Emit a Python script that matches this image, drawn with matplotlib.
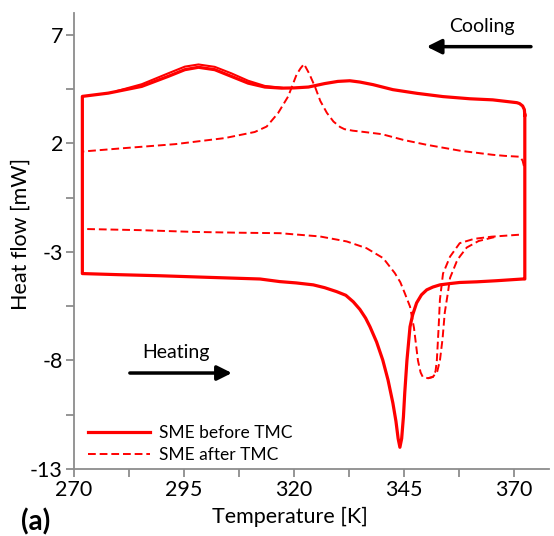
import matplotlib
matplotlib.use("Agg")
import matplotlib.pyplot as plt

plt.rcParams['font.family'] = ['Lato', 'DejaVu Sans']
plt.rcParams['axes.unicode_minus'] = False

# ---- SME before TMC (solid): cooling (right -> left), then heating (left -> right) ----
cool_before_T = [372.5, 372.4, 372.0, 371.3, 370.7, 365.2, 360.0, 353.9, 348.0, 342.5, 338.0, 335.0,
                 332.7, 330.0, 327.0, 323.3, 320.0, 317.2, 313.4, 309.6, 305.8, 302.0, 298.3,
                 295.2, 291.4, 285.4, 277.8, 271.9]
cool_before_Q = [3.3, 3.55, 3.72, 3.83, 3.87, 4.0, 4.05, 4.15, 4.3, 4.47, 4.7, 4.82,
                 4.88, 4.85, 4.75, 4.59, 4.55, 4.54, 4.59, 4.77, 5.08, 5.39, 5.5,
                 5.39, 5.08, 4.62, 4.31, 4.16]
cool_before2_T = [317.2, 313.4, 309.6, 305.8, 302.0, 298.3, 295.2, 291.4, 285.4, 280.0]
cool_before2_Q = [4.56, 4.64, 4.88, 5.22, 5.52, 5.63, 5.53, 5.22, 4.72, 4.42]
heat_before_T = [271.9, 280.0, 289.5, 300.0, 312.3, 316.8, 320.5, 324.4, 327.0, 329.7, 331.8, 333.5,
                 335.0, 336.3, 337.3, 338.8, 340.2, 341.4, 342.5, 343.2, 343.7, 344.1, 344.5, 344.9,
                 345.2, 345.7, 346.4, 347.0, 347.9, 349.0, 350.2, 351.6, 353.2, 355.5, 357.7,
                 361.6, 366.0, 372.0, 372.5]
heat_before_Q = [-4.0, -4.05, -4.1, -4.17, -4.25, -4.37, -4.43, -4.52, -4.65, -4.83, -5.0, -5.3,
                 -5.65, -6.05, -6.45, -7.15, -7.98, -8.9, -9.96, -10.8, -11.6, -12.0, -11.6, -10.6,
                 -9.5, -8.0, -6.45, -5.9, -5.35, -4.98, -4.75, -4.62, -4.52, -4.46, -4.41,
                 -4.38, -4.33, -4.25, -4.25]

# ---- SME after TMC (dashed) ----
cool_after_T = [372.3, 372.0, 371.4, 368.0, 365.2, 358.0, 350.2, 345.0, 340.0, 336.0, 333.4, 331.5,
                330.5, 329.0, 327.5, 326.0, 324.8, 323.5, 322.3, 321.5, 320.6, 318.7, 316.4,
                313.8, 311.1, 304.3, 293.0, 281.6, 271.9]
cool_after_Q = [0.95, 1.2, 1.38, 1.42, 1.47, 1.65, 1.93, 2.15, 2.42, 2.52, 2.58, 2.65,
                2.75, 3.0, 3.4, 3.95, 4.6, 5.2, 5.65, 5.45, 5.16, 4.16, 3.39,
                2.77, 2.52, 2.24, 1.96, 1.78, 1.62]
heat_after_T = [273.0, 285.0, 297.0, 308.0, 316.8, 325.9, 332.0, 336.5, 340.3, 342.95, 344.2,
                345.2, 346.4, 347.3, 348.2, 348.8, 349.3, 350.5, 351.6, 352.2, 352.5, 352.9,
                353.2, 353.9, 355.5, 357.7, 361.0, 365.0, 372.0]
heat_after_Q = [-1.95, -2.0, -2.08, -2.12, -2.14, -2.29, -2.52, -2.83, -3.29, -3.98, -4.4,
                -4.9, -5.52, -6.5, -8.0, -8.55, -8.76, -8.82, -8.76, -8.5, -8.0, -6.5,
                -5.2, -4.0, -3.22, -2.6, -2.4, -2.3, -2.2]
heat_after2_T = [350.5, 351.6, 352.6, 353.2, 353.8, 354.3, 355.0, 355.5, 357.0, 357.7, 359.3,
                 362.0, 366.0]
heat_after2_Q = [-8.82, -8.76, -8.5, -8.0, -7.0, -5.8, -4.9, -4.2, -3.45, -3.22, -2.8,
                 -2.5, -2.3]

xticks = [270, 295, 320, 345, 370]
yticks = [7, 2, -3, -8, -13]

fig = plt.figure(figsize=(5.54, 5.36), dpi=100)
ax = fig.add_axes([74/554, 1-469/536, (549-74)/554, (469-13)/536])

red = '#ff0000'
loop_T = cool_before_T + heat_before_T + cool_before_T[:1]
loop_Q = cool_before_Q + heat_before_Q + cool_before_Q[:1]
ax.plot(loop_T, loop_Q, color=red, lw=2.3, solid_joinstyle='round', label='SME before TMC')
ax.plot(cool_before2_T, cool_before2_Q, color=red, lw=1.5, solid_joinstyle='round')
ax.plot(cool_after_T, cool_after_Q, color=red, lw=1.4, dashes=(4, 2), label='SME after TMC')
ax.plot(heat_after_T, heat_after_Q, color=red, lw=1.4, dashes=(4, 2))
ax.plot(heat_after2_T, heat_after2_Q, color=red, lw=1.4, dashes=(4, 2))

ax.set_xlim(270, 378)
ax.set_ylim(-13, 8)
ax.set_xticks(xticks)
ax.set_yticks(yticks)
ax.set_xticks([282.5, 307.5, 332.5, 357.5], minor=True)
ax.set_yticks([4.5, -0.5, -5.5, -10.5], minor=True)
for s in ['top', 'right']:
    ax.spines[s].set_visible(False)
for s in ['left', 'bottom']:
    ax.spines[s].set_color('#8c8c8c')
    ax.spines[s].set_linewidth(1.3)
ax.tick_params(which='both', direction='out', length=6, width=1.3, color='#8c8c8c',
               labelsize=15.5, pad=2)
ax.set_xlabel('Temperature [K]', fontsize=15.5)
ax.set_ylabel('Heat flow [mW]', fontsize=15.5)
ax.xaxis.set_label_coords((290-74)/475, -(507-469)/456, transform=ax.transAxes)
ax.yaxis.set_label_coords(-(74-31)/475, (469-234)/456, transform=ax.transAxes)

leg = ax.legend(loc='lower left', bbox_to_anchor=(0.005, -0.012), frameon=False, fontsize=12.5,
                handlelength=3.6, handletextpad=0.5, labelspacing=0.35, borderaxespad=0.25)

ax.text(362.7, 7.37, 'Cooling', fontsize=14, ha='center', va='center')
ax.annotate('', xy=(350.2, 6.45), xytext=(373.9, 6.45),
            arrowprops=dict(arrowstyle='-|>', lw=2.5, color='black', mutation_scale=22,
                            shrinkA=0, shrinkB=0))
ax.text(293.2, -7.65, 'Heating', fontsize=14, ha='center', va='center')
ax.annotate('', xy=(305.9, -8.58), xytext=(282.7, -8.58),
            arrowprops=dict(arrowstyle='-|>', lw=2.5, color='black', mutation_scale=22,
                            shrinkA=0, shrinkB=0))

fig.text(21/554, 1-522/536, '(a)', fontsize=20, fontweight='bold', va='center', ha='left')

fig.savefig('out.png', dpi=100)
